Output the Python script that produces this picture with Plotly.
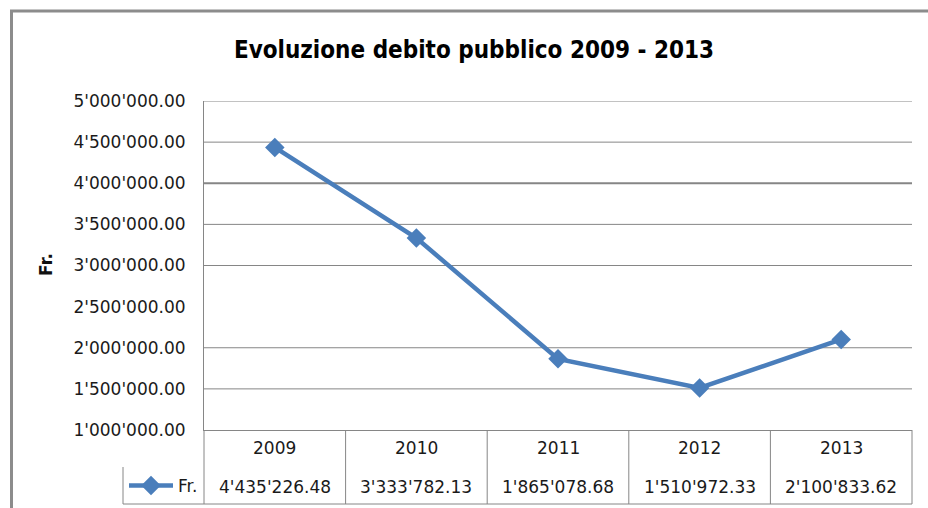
import plotly.graph_objects as go

# ---- data ----
years = ["2009", "2010", "2011", "2012", "2013"]
debt_fr = [4435226.48, 3333782.13, 1865078.68, 1510972.33, 2100833.62]
series_name = "Fr."
y_ticks = [1000000, 1500000, 2000000, 2500000, 3000000, 3500000, 4000000, 4500000, 5000000]
grid_values = [1500000, 2000000, 3000000, 3500000, 4000000, 4500000, 5000000]

FONT = "DejaVu Sans, Liberation Sans, sans-serif"
TITLE_FONT = "DejaVu Sans Condensed, DejaVu Sans, sans-serif"
GRID = "#868686"
BLUE = "#4A7EBB"
TXT = "#1a1a1a"

W, H = 928, 508
L, R, T, B = 204, 912, 101, 430


def fx(px):
    return px / W


def fy(py):
    return 1 - py / H


fig = go.Figure()
fig.add_trace(go.Scatter(
    x=years, y=debt_fr, mode="lines+markers", name=series_name,
    line=dict(color=BLUE, width=4.5),
    marker=dict(symbol="diamond", size=15, color=BLUE),
))

shapes = []
# horizontal gridlines
for v in grid_values:
    shapes.append(dict(type="line", xref="x domain", yref="y", x0=0, x1=1, y0=v, y1=v,
                       line=dict(color=GRID, width=2 if v == 4000000 else 1), layer="below"))
# table vertical lines (category boundaries)
tb = fy(504)
for i in range(1, len(years)):
    shapes.append(dict(type="line", xref="x", yref="paper", x0=i - 0.5, x1=i - 0.5,
                       y0=fy(B), y1=tb, line=dict(color=GRID, width=1)))
for xe in (L, R):
    shapes.append(dict(type="line", xref="paper", yref="paper", x0=fx(xe), x1=fx(xe),
                       y0=fy(B), y1=tb, line=dict(color=GRID, width=1)))
# table bottom & legend cell
shapes.append(dict(type="line", xref="paper", yref="paper", x0=fx(123), x1=fx(R),
                   y0=tb, y1=tb, line=dict(color=GRID, width=1)))
shapes.append(dict(type="line", xref="paper", yref="paper", x0=fx(123), x1=fx(123),
                   y0=fy(467), y1=tb, line=dict(color=GRID, width=1)))
# outer chart border (left + top)
shapes.append(dict(type="path", xref="paper", yref="paper",
                   path=f"M {fx(11.5)},{fy(520)} L {fx(11.5)},{fy(11)} L {fx(940)},{fy(11)}",
                   line=dict(color="#8C8C8C", width=3)))

annotations = []
for i, (yr, v) in enumerate(zip(years, debt_fr)):
    annotations.append(dict(x=i, xref="x", y=fy(448), yref="paper", text=yr,
                            showarrow=False, font=dict(family=FONT, size=17, color=TXT),
                            xanchor="center", yanchor="middle"))
    annotations.append(dict(x=i, xref="x", y=fy(487), yref="paper",
                            text=f"{v:,.2f}".replace(",", "'"),
                            showarrow=False, font=dict(family=FONT, size=17, color=TXT),
                            xanchor="center", yanchor="middle"))
annotations.append(dict(x=fx(46), xref="paper", y=fy(265), yref="paper", text="<b>Fr.</b>",
                        textangle=-90, showarrow=False, xanchor="center", yanchor="middle",
                        font=dict(family=FONT, size=17, color="#111")))

fig.update_layout(
    width=W, height=H,
    margin=dict(l=0, r=0, t=0, b=0, autoexpand=False),
    paper_bgcolor="white", plot_bgcolor="white",
    separators=".'",
    title=dict(text="<b>Evoluzione debito pubblico 2009 - 2013</b>", x=474 / W, xanchor="center",
               y=1 - 50 / H, yanchor="middle",
               font=dict(family=TITLE_FONT, size=24, color="#000")),
    xaxis=dict(type="category", domain=[fx(L), fx(R)], range=[-0.5, 4.5], automargin=False,
               showticklabels=False, showgrid=False,
               showline=True, linecolor=GRID, linewidth=1, ticks="", zeroline=False),
    yaxis=dict(domain=[fy(B), fy(T)], range=[1000000, 5000000], tickvals=y_ticks,
               tickformat=",.2f", automargin=False,
               showgrid=False, showline=True, linecolor=GRID, linewidth=1, ticks="",
               ticklabelstandoff=14, zeroline=False,
               tickfont=dict(family=FONT, size=17, color=TXT)),
    showlegend=True,
    legend=dict(x=fx(124), y=fy(486), xanchor="left", yanchor="middle",
                bgcolor="rgba(0,0,0,0)", font=dict(family=FONT, size=17, color=TXT),
                itemwidth=44, borderwidth=0),
    shapes=shapes,
    annotations=annotations,
)

fig.write_html("out.html", config={"displayModeBar": False},
               post_script="document.body.style.margin='0px';")
